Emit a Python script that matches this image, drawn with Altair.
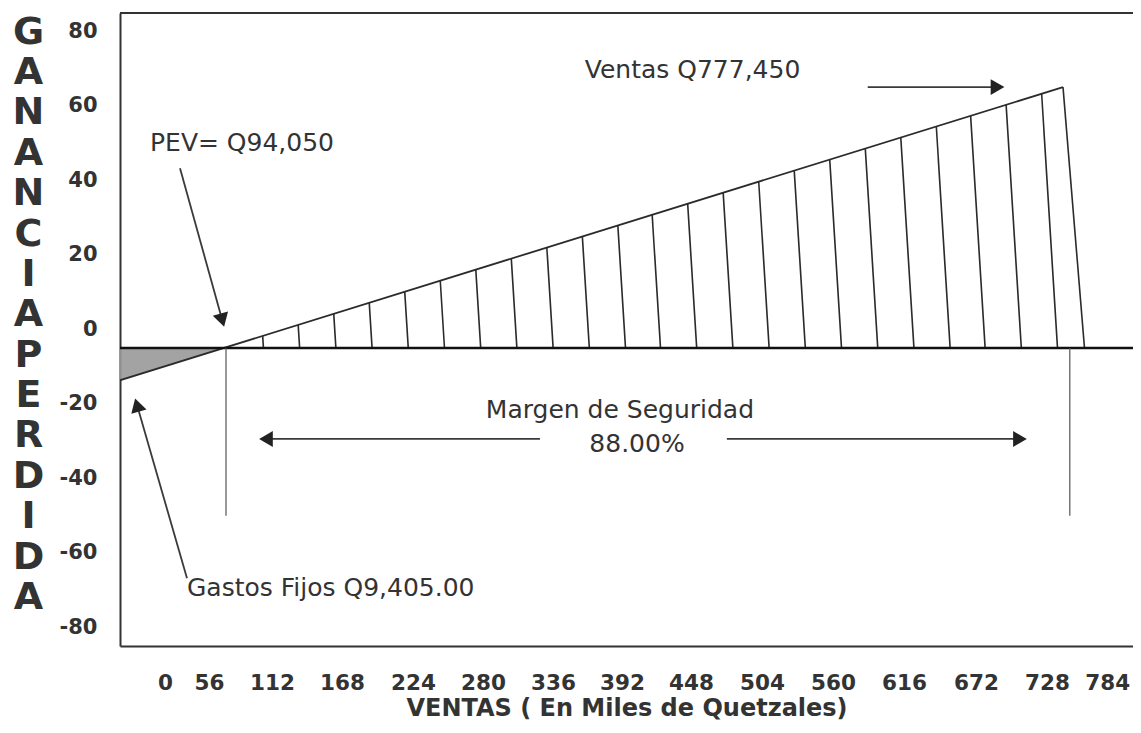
import altair as alt
import pandas as pd

# ---- values (thousands of quetzales) ----
profit_x = [0, 777.45]
profit_y = [-9.405, 70.1]

loss_x = [0, 92.0]
loss_y = [-9.405, 0]

hatch_x = [124, 153, 182, 211, 240, 269, 298, 327, 356, 385, 414, 442,
           471, 500, 529, 558, 587, 616, 645, 674, 702, 731, 760]
hatch_top = [3.3, 6.2, 9.2, 12.2, 15.1, 18.1, 21.1, 24.0, 27.0, 30.0, 32.9, 35.8,
             38.8, 41.7, 44.7, 47.7, 50.6, 53.6, 56.5, 59.5, 62.4, 65.4, 68.3]
edge_x = [777.45, 795]
edge_y = [70.1, 0]

margin_x = [94.05, 783]
margin_bottom = [-45, -45]

y_ticks = [-80, -60, -40, -20, 0, 20, 40, 60, 80]
x_tick_labels = ["0", "56", "112", "168", "224", "280", "336", "392",
                 "448", "504", "560", "616", "672", "728", "784"]
x_tick_pos = [44.3, 80.2, 131.6, 188.8, 246.7, 303.9, 361.0, 417.4,
              473.7, 531.7, 589.6, 647.6, 706.4, 764.3, 813.5]

arrow_x = [618, 56.5, 62.2, 350.4, 503]
arrow_y = [70.1, 48.3, -61.8, -24.4, -24.4]
arrow_x2 = [724, 91, 21.4, 126.7, 742.3]
arrow_y2 = [70.1, 7.5, -15.3, -24.4, -24.4]
head_shape = ["triangle-right", "triangle-down", "triangle-up", "triangle-left", "triangle-right"]
head_angle = [0, 344, 344, 0, 0]

left_texts = ["Ventas  Q777,450", "PEV= Q94,050", "Gastos Fijos Q9,405.00"]
left_text_x = [387, 32, 62.2]
left_text_y = [74.6, 55.0, -64.4]
center_texts = ["Margen de Seguridad", "88.00%"]
center_text_x = [415.7, 429.6]
center_text_y = [-16.6, -25.8]

y_title = list("GANANCIA") + list("PERDIDA")
x_title = "VENTAS ( En Miles de Quetzales)"

# ---- chart ----
DARK = "#2b2b2b"
TEXT = "#333333"
XS = alt.Scale(domain=[7.5, 834.6], nice=False, zero=False)
YS = alt.Scale(domain=[-80, 90], nice=False, zero=False)

pairs = ", ".join(str(v) for v in x_tick_pos)
labs = ", ".join("'%s'" % l for l in x_tick_labels)
X_AXIS = alt.Axis(values=x_tick_pos, labelExpr="[%s][indexof([%s], datum.value)]" % (labs, pairs),
                  title=x_title, grid=False, ticks=False, tickSize=0, labelFlush=False,
                  labelOverlap=False, labelFont="DejaVu Sans", labelFontWeight="bold",
                  labelFontSize=21.5, labelColor=TEXT, labelPadding=26, domainColor="#333",
                  domainWidth=2, titleFont="DejaVu Sans", titleFontWeight="bold",
                  titleFontSize=24, titleColor=TEXT, titlePadding=3)
Y_AXIS = alt.Axis(values=y_ticks, labelExpr="replace(datum.label, '\u2212', '-')",
                  grid=False, ticks=False, tickSize=0, labelOffset=-19,
                  labelPadding=23, labelFont="DejaVu Sans", labelFontWeight="bold",
                  labelFontSize=21, labelColor=TEXT, domainColor="#333", domainWidth=2,
                  labelFlush=False, title=y_title, titleAngle=0, titleAlign="center",
                  titleBaseline="top", titleX=-92, titleY=0, titleFont="DejaVu Sans",
                  titleFontWeight="bold", titleFontSize=38, titleLineHeight=40.4,
                  titleColor=TEXT)


def X(f):
    return alt.X(f, type="quantitative", scale=XS, axis=X_AXIS)


def Y(f):
    return alt.Y(f, type="quantitative", scale=YS, axis=Y_AXIS)


loss_df = pd.DataFrame({"x": loss_x, "y": loss_y, "y0": [0, 0]})
loss = alt.Chart(loss_df).mark_area(color="#999999", opacity=0.9, clip=True).encode(
    x=X("x"), y=Y("y"), y2="y0")

frame_df = pd.DataFrame({"y": [90]})
top_border = alt.Chart(frame_df).mark_rule(color="#333", strokeWidth=2).encode(y=Y("y"))

zero_df = pd.DataFrame({"y": [0]})
zero_line = alt.Chart(zero_df).mark_rule(color="#111", strokeWidth=2.5).encode(y=Y("y"))

profit_df = pd.DataFrame({"x": profit_x, "y": profit_y})
profit = alt.Chart(profit_df).mark_line(color=DARK, strokeWidth=1.8, clip=True).encode(
    x=X("x"), y=Y("y"))

hatch_df = pd.DataFrame({"x": hatch_x, "y": hatch_top})
hatch = alt.Chart(hatch_df).transform_calculate(
    xb="datum.x + 0.19 * datum.y", y0="0").mark_rule(color=DARK, strokeWidth=1.6).encode(
    x=X("x"), y=Y("y"), x2="xb:Q", y2="y0:Q")

edge_df = pd.DataFrame({"x": [edge_x[0]], "y": [edge_y[0]], "x2": [edge_x[1]], "y2": [edge_y[1]]})
edge = alt.Chart(edge_df).mark_rule(color=DARK, strokeWidth=1.6).encode(
    x=X("x"), y=Y("y"), x2="x2", y2="y2")

margin_df = pd.DataFrame({"x": margin_x, "y": [0, 0], "y2": margin_bottom})
margin = alt.Chart(margin_df).mark_rule(color="#555", strokeWidth=1.2).encode(
    x=X("x"), y=Y("y"), y2="y2")

arrow_df = pd.DataFrame({"x": arrow_x, "y": arrow_y, "x2": arrow_x2, "y2": arrow_y2})
shafts = alt.Chart(arrow_df).mark_rule(color="#3a3a3a", strokeWidth=1.8).encode(
    x=X("x"), y=Y("y"), x2="x2", y2="y2")

head_df = pd.DataFrame({"x": arrow_x2, "y": arrow_y2, "shape": head_shape, "angle": head_angle})
heads = alt.Chart(head_df).mark_point(filled=True, color="#222", opacity=1, size=250).encode(
    x=X("x"), y=Y("y"),
    shape=alt.Shape("shape:N", scale=None, legend=None),
    angle=alt.Angle("angle:Q", scale=None))

lt_df = pd.DataFrame({"x": left_text_x, "y": left_text_y, "t": left_texts})
ltext = alt.Chart(lt_df).mark_text(align="left", baseline="middle", font="DejaVu Sans",
                                   fontSize=25, color=TEXT).encode(
    x=X("x"), y=Y("y"), text="t:N")

ct_df = pd.DataFrame({"x": center_text_x, "y": center_text_y, "t": center_texts})
ctext = alt.Chart(ct_df).mark_text(align="center", baseline="middle", font="DejaVu Sans",
                                   fontSize=25, color=TEXT).encode(
    x=X("x"), y=Y("y"), text="t:N")

chart = alt.layer(top_border, loss, hatch, edge, profit, zero_line, margin, shafts, heads,
                  ltext, ctext).properties(
    width=1013, height=633, autosize="none",
    padding={"left": 112, "top": 5, "right": 0, "bottom": 77},
    background="white",
).configure_view(strokeWidth=0)

chart.save("out.html", embed_options={"renderer": "svg", "actions": False})
